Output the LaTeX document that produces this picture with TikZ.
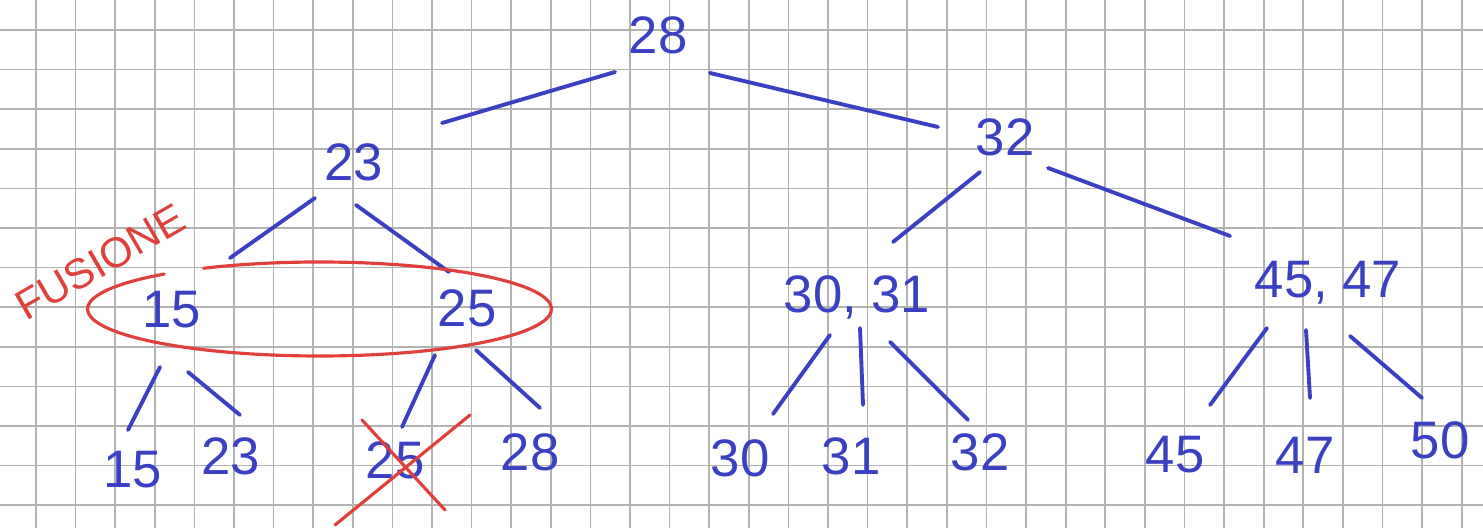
\documentclass[tikz,border=0pt]{standalone}
\usepackage{fontspec}
\setmainfont{Liberation Sans}
\usetikzlibrary{calc}
\definecolor{ink}{HTML}{3B3FC2}
\definecolor{redink}{HTML}{E0403C}
\definecolor{paper}{HTML}{B2B2B2}

\begin{document}
\begin{tikzpicture}[x=0.01cm, y=-0.01cm,
  val/.style={font=\fontsize{15}{17}\selectfont, ink, inner sep=1pt},
  note/.style={font=\fontsize{12}{14}\selectfont, redink, inner sep=1pt},
  link/.style={ink, line width=1.1pt, line cap=round},
  redpen/.style={redink, line width=0.9pt, line cap=round},
  gridline/.style={paper, line width=0.5pt}
]
  \useasboundingbox (0,0) rectangle (1483,528);

  % squared paper
  \foreach \i in {0,...,36}
    \draw[gridline] ({36+39.6*\i},0) -- ++(0,528);
  \foreach \j in {0,...,12}
    \draw[gridline] (0,{30+39.6*\j}) -- ++(1483,0);

  % root and second level
  \node[val] (n28) at (658,35) {28};
  \node[val] (n23) at (354,162) {23};
  \node[val] (n32) at (1005,137) {32};

  % third level
  \node[val] (m15) at (172,310) {15};
  \node[val] (m25) at (467,308) {25};
  \node[val] (n3031) at (857,297) {30, 31};
  \node[val] (n4547) at (1328,283) {45, 47};

  % leaves
  \node[val] (l15) at (133,470) {15};
  \node[val] (l23) at (231,456) {23};
  \node[val] (l25) at (395,460) {25};
  \node[val] (l28) at (530,452) {28};
  \node[val] (l30) at (740,458) {30};
  \node[val] (l31) at (851,456) {31};
  \node[val] (l32) at (980,452) {32};
  \node[val] (l45) at (1175,455) {45};
  \node[val] (l47) at (1305,455) {47};
  \node[val] (l50) at (1440,440) {50};

  % branches
  \draw[link] ([shift={(-43,37)}]n28.center) -- ([shift={(88,-39)}]n23.center);
  \draw[link] ([shift={(52,38)}]n28.center) -- ([shift={(-67,-10)}]n32.center);
  \draw[link] ([shift={(-39,36)}]n23.center) -- ([shift={(58,-52)}]m15.center);
  \draw[link] ([shift={(2,43)}]n23.center) -- ([shift={(-18,-36)}]m25.center);
  \draw[link] ([shift={(-25,35)}]n32.center) -- ([shift={(36,-55)}]n3031.center);
  \draw[link] ([shift={(43,31)}]n32.center) -- ([shift={(-98,-47)}]n4547.center);

  \draw[link] ([shift={(-12,57)}]m15.center) -- ([shift={(-5,-40)}]l15.center);
  \draw[link] ([shift={(16,62)}]m15.center) -- ([shift={(9,-41)}]l23.center);
  \draw[link] ([shift={(-32,47)}]m25.center) -- ([shift={(7,-33)}]l25.center);
  \draw[link] ([shift={(9,42)}]m25.center) -- ([shift={(10,-44)}]l28.center);

  \draw[link] ([shift={(-27,38)}]n3031.center) -- ([shift={(33,-44)}]l30.center);
  \draw[link] ([shift={(3,31)}]n3031.center) -- ([shift={(12,-51)}]l31.center);
  \draw[link] ([shift={(33,45)}]n3031.center) -- ([shift={(-12,-32)}]l32.center);

  \draw[link] ([shift={(-61,45)}]n4547.center) -- ([shift={(35,-50)}]l45.center);
  \draw[link] ([shift={(-22,47)}]n4547.center) -- ([shift={(5,-57)}]l47.center);
  \draw[link] ([shift={(22,53)}]n4547.center) -- ([shift={(-18,-42)}]l50.center);

  % merge of the two siblings
  \node[note, rotate=30] (fus) at (100,262) {FUSIONE};
  \draw[redpen] ($(m15)!0.5!(m25)$) ++(240:232 and 47)
    arc[start angle=240, end angle=588, x radius=232, y radius=47];

  % removed key
  \draw[redpen] ([shift={(-33,-40)}]l25.center) -- ([shift={(50,50)}]l25.center);
  \draw[redpen] ([shift={(-60,65)}]l25.center) -- ([shift={(75,-45)}]l25.center);
\end{tikzpicture}
\end{document}
